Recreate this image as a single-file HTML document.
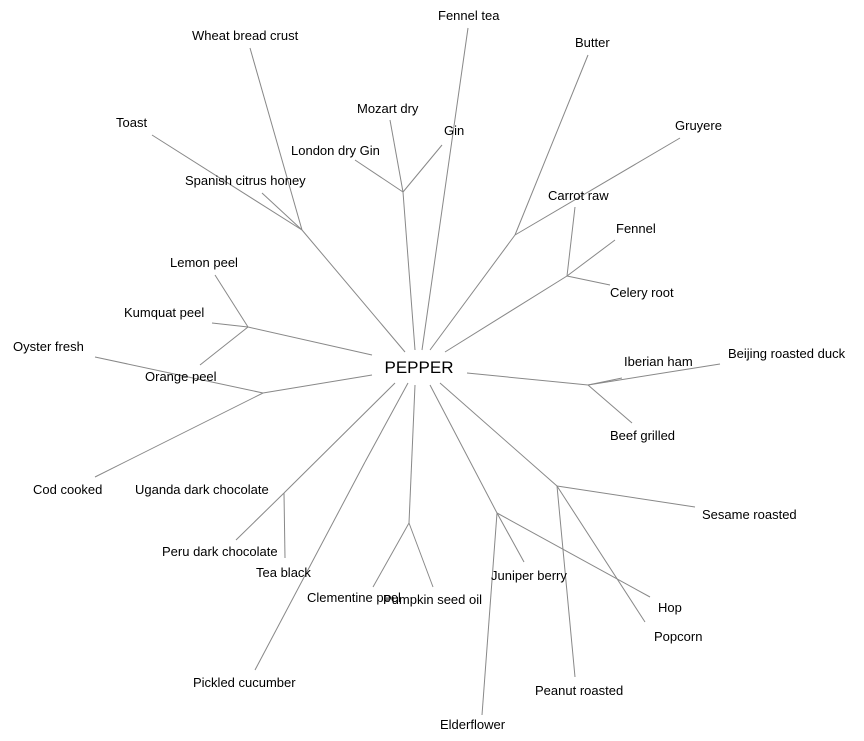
<!DOCTYPE html>
<html><head><meta charset="utf-8"><style>
html,body{margin:0;padding:0;background:#fff;}
svg{display:block;}
text{font-family:"Liberation Sans",Arial,sans-serif;font-size:13px;fill:#000;}
</style></head><body>
<svg width="864" height="741" viewBox="0 0 864 741" xmlns="http://www.w3.org/2000/svg">
<g stroke="#888" stroke-width="1" fill="none">
<line x1="468" y1="28" x2="422" y2="350"/>
<line x1="250" y1="48" x2="302" y2="230"/>
<line x1="152" y1="135" x2="302" y2="230"/>
<line x1="262" y1="193" x2="302" y2="230"/>
<line x1="302" y1="230" x2="405" y2="352"/>
<line x1="390" y1="120" x2="403" y2="192"/>
<line x1="442" y1="145" x2="403" y2="192"/>
<line x1="355" y1="160" x2="403" y2="192"/>
<line x1="403" y1="192" x2="415" y2="350"/>
<line x1="588" y1="55" x2="515" y2="235"/>
<line x1="680" y1="138" x2="515" y2="235"/>
<line x1="515" y1="235" x2="430" y2="350"/>
<line x1="575" y1="207" x2="567" y2="276"/>
<line x1="615" y1="240" x2="567" y2="276"/>
<line x1="610" y1="285" x2="567" y2="276"/>
<line x1="567" y1="276" x2="445" y2="352"/>
<line x1="215" y1="275" x2="248" y2="327"/>
<line x1="212" y1="323" x2="248" y2="327"/>
<line x1="200" y1="365" x2="248" y2="327"/>
<line x1="248" y1="327" x2="372" y2="355"/>
<line x1="95" y1="357" x2="263" y2="393"/>
<line x1="95" y1="477" x2="263" y2="393"/>
<line x1="263" y1="393" x2="372" y2="375"/>
<line x1="622" y1="378" x2="588" y2="385"/>
<line x1="720" y1="364" x2="588" y2="385"/>
<line x1="632" y1="423" x2="588" y2="385"/>
<line x1="588" y1="385" x2="467" y2="373"/>
<line x1="236" y1="540" x2="284" y2="493"/>
<line x1="285" y1="558" x2="284" y2="493"/>
<line x1="284" y1="493" x2="395" y2="383"/>
<line x1="255" y1="670" x2="365" y2="462"/>
<line x1="365" y1="462" x2="408" y2="383"/>
<line x1="373" y1="587" x2="409" y2="523"/>
<line x1="433" y1="587" x2="409" y2="523"/>
<line x1="409" y1="523" x2="415" y2="385"/>
<line x1="524" y1="562" x2="497" y2="513"/>
<line x1="482" y1="715" x2="497" y2="513"/>
<line x1="650" y1="597" x2="497" y2="513"/>
<line x1="497" y1="513" x2="430" y2="385"/>
<line x1="695" y1="507" x2="557" y2="486"/>
<line x1="575" y1="677" x2="557" y2="486"/>
<line x1="645" y1="622" x2="557" y2="486"/>
<line x1="557" y1="486" x2="440" y2="383"/>
</g>
<text x="419" y="373" text-anchor="middle" style="font-size:17px">PEPPER</text>
<text x="438" y="20">Fennel tea</text>
<text x="192" y="40">Wheat bread crust</text>
<text x="575" y="47">Butter</text>
<text x="116" y="127">Toast</text>
<text x="357" y="113">Mozart dry</text>
<text x="444" y="135">Gin</text>
<text x="675" y="130">Gruyere</text>
<text x="291" y="155">London dry Gin</text>
<text x="185" y="185">Spanish citrus honey</text>
<text x="548" y="200">Carrot raw</text>
<text x="616" y="233">Fennel</text>
<text x="170" y="267">Lemon peel</text>
<text x="610" y="297">Celery root</text>
<text x="124" y="317">Kumquat peel</text>
<text x="13" y="351">Oyster fresh</text>
<text x="624" y="366">Iberian ham</text>
<text x="728" y="358">Beijing roasted duck</text>
<text x="145" y="381">Orange peel</text>
<text x="610" y="440">Beef grilled</text>
<text x="33" y="494">Cod cooked</text>
<text x="135" y="494">Uganda dark chocolate</text>
<text x="702" y="519">Sesame roasted</text>
<text x="162" y="556">Peru dark chocolate</text>
<text x="256" y="577">Tea black</text>
<text x="491" y="580">Juniper berry</text>
<text x="307" y="602">Clementine peel</text>
<text x="383" y="604">Pumpkin seed oil</text>
<text x="658" y="612">Hop</text>
<text x="654" y="641">Popcorn</text>
<text x="193" y="687">Pickled cucumber</text>
<text x="535" y="695">Peanut roasted</text>
<text x="440" y="729">Elderflower</text>
</svg>
</body></html>
